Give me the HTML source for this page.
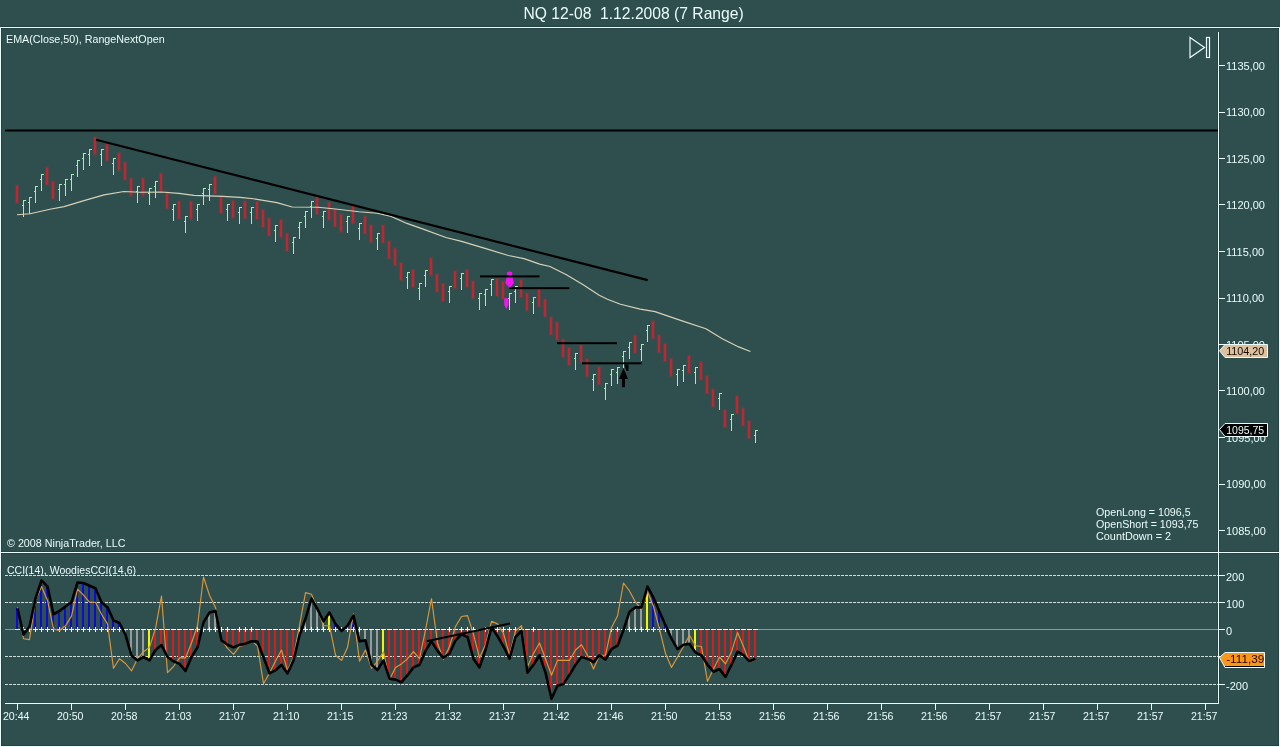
<!DOCTYPE html><html><head><meta charset="utf-8"><title>NQ 12-08 1.12.2008 (7 Range)</title>
<style>html,body{margin:0;padding:0;background:#2f4f4f;width:1280px;height:747px;overflow:hidden}svg{display:block;will-change:transform}text{font-family:"Liberation Sans", sans-serif}</style></head><body>
<svg width="1280" height="747" viewBox="0 0 1280 747">
<rect x="0" y="0" width="1280" height="747" fill="#2f4f4f"/>
<text x="633.6" y="18.8" font-size="15.66" fill="#eafcfb" text-anchor="middle">NQ 12-08&#160; 1.12.2008 (7 Range)</text>
<g fill="#000" fill-opacity="0.16" shape-rendering="crispEdges">
<rect x="0" y="26" width="1280" height="1"/>
<rect x="1" y="28" width="1278" height="1"/>
<rect x="1" y="28" width="1" height="718"/>
<rect x="1278" y="28" width="1" height="718"/>
<rect x="1" y="745" width="1278" height="1"/>
<rect x="1" y="551" width="1278" height="1"/>
<rect x="1" y="553" width="1278" height="1"/>
<rect x="1217" y="32" width="1" height="519"/>
<rect x="1219" y="32" width="1" height="519"/>
<rect x="1217" y="554" width="1" height="149"/>
<rect x="1219" y="554" width="1" height="149"/>
</g>
<g shape-rendering="crispEdges" fill="#eafcfb">
<rect x="0" y="27" width="1280" height="1"/>
<rect x="0" y="27" width="1" height="720"/>
<rect x="1279" y="27" width="1" height="720"/>
<rect x="0" y="746" width="1280" height="1"/>
<rect x="0" y="552" width="1280" height="1"/>
<rect x="1218" y="32" width="1" height="672"/>
<rect x="5" y="703" width="1214" height="1"/>
<rect x="17" y="704" width="1" height="6"/>
<rect x="71" y="704" width="1" height="6"/>
<rect x="125" y="704" width="1" height="6"/>
<rect x="179" y="704" width="1" height="6"/>
<rect x="233" y="704" width="1" height="6"/>
<rect x="287" y="704" width="1" height="6"/>
<rect x="341" y="704" width="1" height="6"/>
<rect x="395" y="704" width="1" height="6"/>
<rect x="449" y="704" width="1" height="6"/>
<rect x="503" y="704" width="1" height="6"/>
<rect x="557" y="704" width="1" height="6"/>
<rect x="611" y="704" width="1" height="6"/>
<rect x="665" y="704" width="1" height="6"/>
<rect x="719" y="704" width="1" height="6"/>
<rect x="773" y="704" width="1" height="6"/>
<rect x="827" y="704" width="1" height="6"/>
<rect x="881" y="704" width="1" height="6"/>
<rect x="935" y="704" width="1" height="6"/>
<rect x="989" y="704" width="1" height="6"/>
<rect x="1043" y="704" width="1" height="6"/>
<rect x="1097" y="704" width="1" height="6"/>
<rect x="1151" y="704" width="1" height="6"/>
<rect x="1205" y="704" width="1" height="6"/>
<rect x="1219" y="65" width="6" height="1"/>
<rect x="1219" y="112" width="6" height="1"/>
<rect x="1219" y="158" width="6" height="1"/>
<rect x="1219" y="204" width="6" height="1"/>
<rect x="1219" y="251" width="6" height="1"/>
<rect x="1219" y="298" width="6" height="1"/>
<rect x="1219" y="344" width="6" height="1"/>
<rect x="1219" y="390" width="6" height="1"/>
<rect x="1219" y="437" width="6" height="1"/>
<rect x="1219" y="484" width="6" height="1"/>
<rect x="1219" y="530" width="6" height="1"/>
<rect x="1219" y="575" width="6" height="1"/>
<rect x="1219" y="602" width="6" height="1"/>
<rect x="1219" y="629" width="6" height="1"/>
<rect x="1219" y="656" width="6" height="1"/>
<rect x="1219" y="684" width="6" height="1"/>
</g>
<g shape-rendering="crispEdges">
<line x1="5" y1="575.5" x2="1218" y2="575.5" stroke="#cfdcd9" stroke-width="1" stroke-dasharray="3 1"/>
<line x1="5" y1="602.5" x2="1218" y2="602.5" stroke="#cfdcd9" stroke-width="1" stroke-dasharray="3 1"/>
<line x1="5" y1="656.5" x2="1218" y2="656.5" stroke="#cfdcd9" stroke-width="1" stroke-dasharray="3 1"/>
<line x1="5" y1="684.5" x2="1218" y2="684.5" stroke="#cfdcd9" stroke-width="1" stroke-dasharray="3 1"/>
<rect x="5" y="629" width="10" height="1" fill="#8a9c9a"/>
<rect x="757" y="629" width="461" height="1" fill="#8a9c9a"/>
</g>
<g font-size="11" fill="#eafcfb">
<text x="1226" y="69.8">1135,00</text>
<text x="1226" y="116.3">1130,00</text>
<text x="1226" y="162.8">1125,00</text>
<text x="1226" y="209.3">1120,00</text>
<text x="1226" y="255.8">1115,00</text>
<text x="1226" y="302.3">1110,00</text>
<text x="1226" y="348.8">1105,00</text>
<text x="1226" y="395.3">1100,00</text>
<text x="1226" y="441.8">1095,00</text>
<text x="1226" y="488.3">1090,00</text>
<text x="1226" y="534.8">1085,00</text>
<text x="1226" y="581.2">200</text>
<text x="1226" y="608.2">100</text>
<text x="1226" y="635.2">0</text>
<text x="1226" y="690.2">-200</text>
<text x="16.2" y="720" text-anchor="middle" textLength="26.5" lengthAdjust="spacingAndGlyphs">20:44</text>
<text x="70.2" y="720" text-anchor="middle" textLength="26.5" lengthAdjust="spacingAndGlyphs">20:50</text>
<text x="124.2" y="720" text-anchor="middle" textLength="26.5" lengthAdjust="spacingAndGlyphs">20:58</text>
<text x="178.2" y="720" text-anchor="middle" textLength="26.5" lengthAdjust="spacingAndGlyphs">21:03</text>
<text x="232.2" y="720" text-anchor="middle" textLength="26.5" lengthAdjust="spacingAndGlyphs">21:07</text>
<text x="286.2" y="720" text-anchor="middle" textLength="26.5" lengthAdjust="spacingAndGlyphs">21:10</text>
<text x="340.2" y="720" text-anchor="middle" textLength="26.5" lengthAdjust="spacingAndGlyphs">21:15</text>
<text x="394.2" y="720" text-anchor="middle" textLength="26.5" lengthAdjust="spacingAndGlyphs">21:23</text>
<text x="448.2" y="720" text-anchor="middle" textLength="26.5" lengthAdjust="spacingAndGlyphs">21:32</text>
<text x="502.2" y="720" text-anchor="middle" textLength="26.5" lengthAdjust="spacingAndGlyphs">21:37</text>
<text x="556.2" y="720" text-anchor="middle" textLength="26.5" lengthAdjust="spacingAndGlyphs">21:42</text>
<text x="610.2" y="720" text-anchor="middle" textLength="26.5" lengthAdjust="spacingAndGlyphs">21:46</text>
<text x="664.2" y="720" text-anchor="middle" textLength="26.5" lengthAdjust="spacingAndGlyphs">21:50</text>
<text x="718.2" y="720" text-anchor="middle" textLength="26.5" lengthAdjust="spacingAndGlyphs">21:53</text>
<text x="772.2" y="720" text-anchor="middle" textLength="26.5" lengthAdjust="spacingAndGlyphs">21:56</text>
<text x="826.2" y="720" text-anchor="middle" textLength="26.5" lengthAdjust="spacingAndGlyphs">21:56</text>
<text x="880.2" y="720" text-anchor="middle" textLength="26.5" lengthAdjust="spacingAndGlyphs">21:56</text>
<text x="934.2" y="720" text-anchor="middle" textLength="26.5" lengthAdjust="spacingAndGlyphs">21:56</text>
<text x="988.2" y="720" text-anchor="middle" textLength="26.5" lengthAdjust="spacingAndGlyphs">21:57</text>
<text x="1042.2" y="720" text-anchor="middle" textLength="26.5" lengthAdjust="spacingAndGlyphs">21:57</text>
<text x="1096.2" y="720" text-anchor="middle" textLength="26.5" lengthAdjust="spacingAndGlyphs">21:57</text>
<text x="1150.2" y="720" text-anchor="middle" textLength="26.5" lengthAdjust="spacingAndGlyphs">21:57</text>
<text x="1204.2" y="720" text-anchor="middle" textLength="26.5" lengthAdjust="spacingAndGlyphs">21:57</text>
<text x="6" y="43" textLength="158.6" lengthAdjust="spacingAndGlyphs">EMA(Close,50), RangeNextOpen</text>
<text x="7" y="547" textLength="118.5" lengthAdjust="spacingAndGlyphs">&#169; 2008 NinjaTrader, LLC</text>
<text x="7" y="574" textLength="129" lengthAdjust="spacingAndGlyphs">CCI(14), WoodiesCCI(14,6)</text>
<text x="1096" y="516" textLength="94.6" lengthAdjust="spacingAndGlyphs">OpenLong = 1096,5</text>
<text x="1096" y="528" textLength="102.5" lengthAdjust="spacingAndGlyphs">OpenShort = 1093,75</text>
<text x="1096" y="540" textLength="75.1" lengthAdjust="spacingAndGlyphs">CountDown = 2</text>
</g>
<g fill="none" stroke="#eafcfb" stroke-width="1.2">
<path d="M1190 37.5 L1204.5 47.5 L1190 57.5 Z"/>
<rect x="1206.5" y="37.5" width="3" height="20"/>
</g>
<rect x="5" y="129.5" width="1213" height="2" fill="#000"/>
<g fill="#c42430">
<rect x="16" y="185.7" width="2" height="17"/>
<rect x="15" y="184.5" width="4" height="19.4" fill-opacity="0.28"/>
<rect x="46" y="167.7" width="2" height="17"/>
<rect x="45" y="166.5" width="4" height="19.4" fill-opacity="0.28"/>
<rect x="52" y="181.7" width="2" height="17"/>
<rect x="51" y="180.5" width="4" height="19.4" fill-opacity="0.28"/>
<rect x="94" y="137.2" width="2" height="17"/>
<rect x="93" y="136" width="4" height="19.4" fill-opacity="0.28"/>
<rect x="106" y="143.5" width="2" height="17"/>
<rect x="105" y="142.3" width="4" height="19.4" fill-opacity="0.28"/>
<rect x="118" y="153.2" width="2" height="17"/>
<rect x="117" y="152" width="4" height="19.4" fill-opacity="0.28"/>
<rect x="124" y="162.5" width="2" height="17"/>
<rect x="123" y="161.3" width="4" height="19.4" fill-opacity="0.28"/>
<rect x="130" y="178.5" width="2" height="17"/>
<rect x="129" y="177.3" width="4" height="19.4" fill-opacity="0.28"/>
<rect x="142" y="178.5" width="2" height="17"/>
<rect x="141" y="177.3" width="4" height="19.4" fill-opacity="0.28"/>
<rect x="160" y="173.9" width="2" height="17"/>
<rect x="159" y="172.7" width="4" height="19.4" fill-opacity="0.28"/>
<rect x="166" y="191.5" width="2" height="17"/>
<rect x="165" y="190.3" width="4" height="19.4" fill-opacity="0.28"/>
<rect x="178" y="201.5" width="2" height="17"/>
<rect x="177" y="200.3" width="4" height="19.4" fill-opacity="0.28"/>
<rect x="190" y="201.8" width="2" height="17"/>
<rect x="189" y="200.6" width="4" height="19.4" fill-opacity="0.28"/>
<rect x="214" y="176.5" width="2" height="17"/>
<rect x="213" y="175.3" width="4" height="19.4" fill-opacity="0.28"/>
<rect x="220" y="196" width="2" height="17"/>
<rect x="219" y="194.8" width="4" height="19.4" fill-opacity="0.28"/>
<rect x="232" y="200.8" width="2" height="17"/>
<rect x="231" y="199.6" width="4" height="19.4" fill-opacity="0.28"/>
<rect x="244" y="201.3" width="2" height="17"/>
<rect x="243" y="200.1" width="4" height="19.4" fill-opacity="0.28"/>
<rect x="256" y="202" width="2" height="17"/>
<rect x="255" y="200.8" width="4" height="19.4" fill-opacity="0.28"/>
<rect x="262" y="210.1" width="2" height="17"/>
<rect x="261" y="208.9" width="4" height="19.4" fill-opacity="0.28"/>
<rect x="268" y="218.5" width="2" height="17"/>
<rect x="267" y="217.3" width="4" height="19.4" fill-opacity="0.28"/>
<rect x="280" y="220.1" width="2" height="17"/>
<rect x="279" y="218.9" width="4" height="19.4" fill-opacity="0.28"/>
<rect x="286" y="233.7" width="2" height="17"/>
<rect x="285" y="232.5" width="4" height="19.4" fill-opacity="0.28"/>
<rect x="316" y="196.9" width="2" height="17"/>
<rect x="315" y="195.7" width="4" height="19.4" fill-opacity="0.28"/>
<rect x="328" y="202.5" width="2" height="17"/>
<rect x="327" y="201.3" width="4" height="19.4" fill-opacity="0.28"/>
<rect x="334" y="209.5" width="2" height="17"/>
<rect x="333" y="208.3" width="4" height="19.4" fill-opacity="0.28"/>
<rect x="340" y="214.5" width="2" height="17"/>
<rect x="339" y="213.3" width="4" height="19.4" fill-opacity="0.28"/>
<rect x="352" y="206.1" width="2" height="17"/>
<rect x="351" y="204.9" width="4" height="19.4" fill-opacity="0.28"/>
<rect x="364" y="216.5" width="2" height="17"/>
<rect x="363" y="215.3" width="4" height="19.4" fill-opacity="0.28"/>
<rect x="370" y="225.2" width="2" height="17"/>
<rect x="369" y="224" width="4" height="19.4" fill-opacity="0.28"/>
<rect x="382" y="225.5" width="2" height="17"/>
<rect x="381" y="224.3" width="4" height="19.4" fill-opacity="0.28"/>
<rect x="388" y="241.5" width="2" height="17"/>
<rect x="387" y="240.3" width="4" height="19.4" fill-opacity="0.28"/>
<rect x="394" y="248.5" width="2" height="17"/>
<rect x="393" y="247.3" width="4" height="19.4" fill-opacity="0.28"/>
<rect x="400" y="263" width="2" height="17"/>
<rect x="399" y="261.8" width="4" height="19.4" fill-opacity="0.28"/>
<rect x="412" y="270.1" width="2" height="17"/>
<rect x="411" y="268.9" width="4" height="19.4" fill-opacity="0.28"/>
<rect x="430" y="258.3" width="2" height="17"/>
<rect x="429" y="257.1" width="4" height="19.4" fill-opacity="0.28"/>
<rect x="436" y="274.5" width="2" height="17"/>
<rect x="435" y="273.3" width="4" height="19.4" fill-opacity="0.28"/>
<rect x="442" y="284" width="2" height="17"/>
<rect x="441" y="282.8" width="4" height="19.4" fill-opacity="0.28"/>
<rect x="454" y="271.2" width="2" height="17"/>
<rect x="453" y="270" width="4" height="19.4" fill-opacity="0.28"/>
<rect x="466" y="270.1" width="2" height="17"/>
<rect x="465" y="268.9" width="4" height="19.4" fill-opacity="0.28"/>
<rect x="472" y="281.1" width="2" height="17"/>
<rect x="471" y="279.9" width="4" height="19.4" fill-opacity="0.28"/>
<rect x="496" y="278.9" width="2" height="17"/>
<rect x="495" y="277.7" width="4" height="19.4" fill-opacity="0.28"/>
<rect x="502" y="281.8" width="2" height="17"/>
<rect x="501" y="280.6" width="4" height="19.4" fill-opacity="0.28"/>
<rect x="520" y="280" width="2" height="17"/>
<rect x="519" y="278.8" width="4" height="19.4" fill-opacity="0.28"/>
<rect x="526" y="293.3" width="2" height="17"/>
<rect x="525" y="292.1" width="4" height="19.4" fill-opacity="0.28"/>
<rect x="538" y="289.5" width="2" height="17"/>
<rect x="537" y="288.3" width="4" height="19.4" fill-opacity="0.28"/>
<rect x="544" y="299.5" width="2" height="17"/>
<rect x="543" y="298.3" width="4" height="19.4" fill-opacity="0.28"/>
<rect x="550" y="317.5" width="2" height="17"/>
<rect x="549" y="316.3" width="4" height="19.4" fill-opacity="0.28"/>
<rect x="556" y="322.5" width="2" height="17"/>
<rect x="555" y="321.3" width="4" height="19.4" fill-opacity="0.28"/>
<rect x="562" y="339.7" width="2" height="17"/>
<rect x="561" y="338.5" width="4" height="19.4" fill-opacity="0.28"/>
<rect x="568" y="347.9" width="2" height="17"/>
<rect x="567" y="346.7" width="4" height="19.4" fill-opacity="0.28"/>
<rect x="580" y="344.9" width="2" height="17"/>
<rect x="579" y="343.7" width="4" height="19.4" fill-opacity="0.28"/>
<rect x="586" y="359.3" width="2" height="17"/>
<rect x="585" y="358.1" width="4" height="19.4" fill-opacity="0.28"/>
<rect x="598" y="367.3" width="2" height="17"/>
<rect x="597" y="366.1" width="4" height="19.4" fill-opacity="0.28"/>
<rect x="634" y="335.7" width="2" height="17"/>
<rect x="633" y="334.5" width="4" height="19.4" fill-opacity="0.28"/>
<rect x="652" y="321.3" width="2" height="17"/>
<rect x="651" y="320.1" width="4" height="19.4" fill-opacity="0.28"/>
<rect x="658" y="335.3" width="2" height="17"/>
<rect x="657" y="334.1" width="4" height="19.4" fill-opacity="0.28"/>
<rect x="664" y="344" width="2" height="17"/>
<rect x="663" y="342.8" width="4" height="19.4" fill-opacity="0.28"/>
<rect x="670" y="358.7" width="2" height="17"/>
<rect x="669" y="357.5" width="4" height="19.4" fill-opacity="0.28"/>
<rect x="688" y="355.8" width="2" height="17"/>
<rect x="687" y="354.6" width="4" height="19.4" fill-opacity="0.28"/>
<rect x="700" y="362.4" width="2" height="17"/>
<rect x="699" y="361.2" width="4" height="19.4" fill-opacity="0.28"/>
<rect x="706" y="376.3" width="2" height="17"/>
<rect x="705" y="375.1" width="4" height="19.4" fill-opacity="0.28"/>
<rect x="712" y="389.5" width="2" height="17"/>
<rect x="711" y="388.3" width="4" height="19.4" fill-opacity="0.28"/>
<rect x="724" y="410.2" width="2" height="17"/>
<rect x="723" y="409" width="4" height="19.4" fill-opacity="0.28"/>
<rect x="736" y="396.3" width="2" height="17"/>
<rect x="735" y="395.1" width="4" height="19.4" fill-opacity="0.28"/>
<rect x="742" y="408.5" width="2" height="17"/>
<rect x="741" y="407.3" width="4" height="19.4" fill-opacity="0.28"/>
<rect x="748" y="421" width="2" height="17"/>
<rect x="747" y="419.8" width="4" height="19.4" fill-opacity="0.28"/>
</g>
<polyline fill="none" stroke="#d6d2b8" stroke-width="1.15" stroke-linejoin="round" points="17,214.7 30,213.7 50,209.3 64,206.6 84,200.6 104,194.9 124,191.5 140,192.2 161,192 179,193.4 194,195.4 223,196.4 240,197.4 253.4,198.8 276.9,202.6 292.1,207 317.9,207.3 335.5,209 358.9,211.7 377.2,213.3 391.3,216.4 406.9,223.4 422.5,228.9 445.9,237.5 461.6,241.4 485,248.4 508.4,255.5 524,258.6 539.7,264.1 550,266.5 566.4,274.7 582.8,284.5 599.2,295.2 607.4,299.3 620.5,304.2 640.2,309.1 655,311.6 681.3,320.6 705.9,328.8 722.3,338.7 738.7,346.9 750.4,351.5"/>
<g shape-rendering="crispEdges" fill="#a4f0b4">
<rect x="23" y="200.2" width="1" height="17"/>
<rect x="24" y="200.2" width="2" height="1"/>
<rect x="22" y="205.2" width="1" height="1"/>
<rect x="29" y="197.3" width="1" height="17"/>
<rect x="30" y="197.3" width="2" height="1"/>
<rect x="28" y="202.3" width="1" height="1"/>
<rect x="35" y="186.2" width="1" height="17"/>
<rect x="36" y="186.2" width="2" height="1"/>
<rect x="34" y="191.2" width="1" height="1"/>
<rect x="41" y="174.1" width="1" height="17"/>
<rect x="42" y="174.1" width="2" height="1"/>
<rect x="40" y="179.1" width="1" height="1"/>
<rect x="59" y="184.1" width="1" height="17"/>
<rect x="60" y="184.1" width="2" height="1"/>
<rect x="58" y="189.1" width="1" height="1"/>
<rect x="65" y="179.2" width="1" height="17"/>
<rect x="66" y="179.2" width="2" height="1"/>
<rect x="64" y="184.2" width="1" height="1"/>
<rect x="71" y="174.2" width="1" height="17"/>
<rect x="72" y="174.2" width="2" height="1"/>
<rect x="70" y="179.2" width="1" height="1"/>
<rect x="77" y="160.2" width="1" height="17"/>
<rect x="78" y="160.2" width="2" height="1"/>
<rect x="76" y="165.2" width="1" height="1"/>
<rect x="83" y="153.1" width="1" height="17"/>
<rect x="84" y="153.1" width="2" height="1"/>
<rect x="82" y="158.1" width="1" height="1"/>
<rect x="89" y="149.1" width="1" height="17"/>
<rect x="90" y="149.1" width="2" height="1"/>
<rect x="88" y="154.1" width="1" height="1"/>
<rect x="101" y="149.1" width="1" height="17"/>
<rect x="102" y="149.1" width="2" height="1"/>
<rect x="100" y="154.1" width="1" height="1"/>
<rect x="113" y="158.4" width="1" height="17"/>
<rect x="114" y="158.4" width="2" height="1"/>
<rect x="112" y="163.4" width="1" height="1"/>
<rect x="137" y="186.1" width="1" height="17"/>
<rect x="138" y="186.1" width="2" height="1"/>
<rect x="136" y="191.1" width="1" height="1"/>
<rect x="149" y="188" width="1" height="17"/>
<rect x="150" y="188" width="2" height="1"/>
<rect x="148" y="193" width="1" height="1"/>
<rect x="155" y="181.2" width="1" height="17"/>
<rect x="156" y="181.2" width="2" height="1"/>
<rect x="154" y="186.2" width="1" height="1"/>
<rect x="173" y="204.2" width="1" height="17"/>
<rect x="174" y="204.2" width="2" height="1"/>
<rect x="172" y="209.2" width="1" height="1"/>
<rect x="185" y="216.3" width="1" height="17"/>
<rect x="186" y="216.3" width="2" height="1"/>
<rect x="184" y="221.3" width="1" height="1"/>
<rect x="197" y="204.2" width="1" height="17"/>
<rect x="198" y="204.2" width="2" height="1"/>
<rect x="196" y="209.2" width="1" height="1"/>
<rect x="203" y="188" width="1" height="17"/>
<rect x="204" y="188" width="2" height="1"/>
<rect x="202" y="193" width="1" height="1"/>
<rect x="209" y="184.2" width="1" height="17"/>
<rect x="210" y="184.2" width="2" height="1"/>
<rect x="208" y="189.2" width="1" height="1"/>
<rect x="227" y="204.2" width="1" height="17"/>
<rect x="228" y="204.2" width="2" height="1"/>
<rect x="226" y="209.2" width="1" height="1"/>
<rect x="239" y="207.3" width="1" height="17"/>
<rect x="240" y="207.3" width="2" height="1"/>
<rect x="238" y="212.3" width="1" height="1"/>
<rect x="251" y="207.2" width="1" height="17"/>
<rect x="252" y="207.2" width="2" height="1"/>
<rect x="250" y="212.2" width="1" height="1"/>
<rect x="275" y="225.4" width="1" height="17"/>
<rect x="276" y="225.4" width="2" height="1"/>
<rect x="274" y="230.4" width="1" height="1"/>
<rect x="293" y="237.4" width="1" height="17"/>
<rect x="294" y="237.4" width="2" height="1"/>
<rect x="292" y="242.4" width="1" height="1"/>
<rect x="299" y="221.5" width="1" height="17"/>
<rect x="300" y="221.5" width="2" height="1"/>
<rect x="298" y="226.5" width="1" height="1"/>
<rect x="305" y="211.2" width="1" height="17"/>
<rect x="306" y="211.2" width="2" height="1"/>
<rect x="304" y="216.2" width="1" height="1"/>
<rect x="311" y="200.6" width="1" height="17"/>
<rect x="312" y="200.6" width="2" height="1"/>
<rect x="310" y="205.6" width="1" height="1"/>
<rect x="323" y="211.2" width="1" height="17"/>
<rect x="324" y="211.2" width="2" height="1"/>
<rect x="322" y="216.2" width="1" height="1"/>
<rect x="347" y="216.1" width="1" height="17"/>
<rect x="348" y="216.1" width="2" height="1"/>
<rect x="346" y="221.1" width="1" height="1"/>
<rect x="359" y="223" width="1" height="17"/>
<rect x="360" y="223" width="2" height="1"/>
<rect x="358" y="228" width="1" height="1"/>
<rect x="377" y="232.6" width="1" height="17"/>
<rect x="378" y="232.6" width="2" height="1"/>
<rect x="376" y="237.6" width="1" height="1"/>
<rect x="407" y="272.3" width="1" height="17"/>
<rect x="408" y="272.3" width="2" height="1"/>
<rect x="406" y="277.3" width="1" height="1"/>
<rect x="419" y="283.4" width="1" height="17"/>
<rect x="420" y="283.4" width="2" height="1"/>
<rect x="418" y="288.4" width="1" height="1"/>
<rect x="425" y="270.4" width="1" height="17"/>
<rect x="426" y="270.4" width="2" height="1"/>
<rect x="424" y="275.4" width="1" height="1"/>
<rect x="449" y="286.3" width="1" height="17"/>
<rect x="450" y="286.3" width="2" height="1"/>
<rect x="448" y="291.3" width="1" height="1"/>
<rect x="461" y="272.5" width="1" height="17"/>
<rect x="462" y="272.5" width="2" height="1"/>
<rect x="460" y="277.5" width="1" height="1"/>
<rect x="479" y="293.3" width="1" height="17"/>
<rect x="480" y="293.3" width="2" height="1"/>
<rect x="478" y="298.3" width="1" height="1"/>
<rect x="485" y="288.6" width="1" height="17"/>
<rect x="486" y="288.6" width="2" height="1"/>
<rect x="484" y="293.6" width="1" height="1"/>
<rect x="491" y="279.3" width="1" height="17"/>
<rect x="492" y="279.3" width="2" height="1"/>
<rect x="490" y="284.3" width="1" height="1"/>
<rect x="509" y="293" width="1" height="17"/>
<rect x="510" y="293" width="2" height="1"/>
<rect x="508" y="298" width="1" height="1"/>
<rect x="515" y="286.2" width="1" height="17"/>
<rect x="516" y="286.2" width="2" height="1"/>
<rect x="514" y="291.2" width="1" height="1"/>
<rect x="533" y="297.4" width="1" height="17"/>
<rect x="534" y="297.4" width="2" height="1"/>
<rect x="532" y="302.4" width="1" height="1"/>
<rect x="575" y="353.3" width="1" height="17"/>
<rect x="576" y="353.3" width="2" height="1"/>
<rect x="574" y="358.3" width="1" height="1"/>
<rect x="593" y="374.4" width="1" height="17"/>
<rect x="594" y="374.4" width="2" height="1"/>
<rect x="592" y="379.4" width="1" height="1"/>
<rect x="605" y="383.2" width="1" height="17"/>
<rect x="606" y="383.2" width="2" height="1"/>
<rect x="604" y="388.2" width="1" height="1"/>
<rect x="611" y="368.9" width="1" height="17"/>
<rect x="612" y="368.9" width="2" height="1"/>
<rect x="610" y="373.9" width="1" height="1"/>
<rect x="617" y="367" width="1" height="17"/>
<rect x="618" y="367" width="2" height="1"/>
<rect x="616" y="372" width="1" height="1"/>
<rect x="623" y="351.3" width="1" height="17"/>
<rect x="624" y="351.3" width="2" height="1"/>
<rect x="622" y="356.3" width="1" height="1"/>
<rect x="629" y="342.4" width="1" height="17"/>
<rect x="630" y="342.4" width="2" height="1"/>
<rect x="628" y="347.4" width="1" height="1"/>
<rect x="641" y="343.9" width="1" height="17"/>
<rect x="642" y="343.9" width="2" height="1"/>
<rect x="640" y="348.9" width="1" height="1"/>
<rect x="647" y="325" width="1" height="17"/>
<rect x="648" y="325" width="2" height="1"/>
<rect x="646" y="330" width="1" height="1"/>
<rect x="677" y="369.2" width="1" height="17"/>
<rect x="678" y="369.2" width="2" height="1"/>
<rect x="676" y="374.2" width="1" height="1"/>
<rect x="683" y="365.2" width="1" height="17"/>
<rect x="684" y="365.2" width="2" height="1"/>
<rect x="682" y="370.2" width="1" height="1"/>
<rect x="695" y="367" width="1" height="17"/>
<rect x="696" y="367" width="2" height="1"/>
<rect x="694" y="372" width="1" height="1"/>
<rect x="719" y="393" width="1" height="17"/>
<rect x="720" y="393" width="2" height="1"/>
<rect x="718" y="398" width="1" height="1"/>
<rect x="731" y="413.9" width="1" height="17"/>
<rect x="732" y="413.9" width="2" height="1"/>
<rect x="730" y="418.9" width="1" height="1"/>
<rect x="755" y="430" width="1" height="13"/>
<rect x="756" y="430" width="2" height="1"/>
<rect x="754" y="435" width="1" height="1"/>
</g>
<g fill="#f412f4">
<ellipse cx="509.6" cy="273.9" rx="2.7" ry="2.4"/>
<path d="M506.6 277.3 L512.6 277.3 L513.9 283 L509.6 288.2 L505.3 283 Z"/>
<path d="M504.2 298.5 L508.4 298 L508.4 305 L506.3 309 L504.2 305 Z"/>
</g>
<line x1="96" y1="139.8" x2="647.7" y2="280.1" stroke="#000" stroke-width="2.2"/>
<g fill="#000">
<rect x="480" y="275.4" width="59.5" height="2"/>
<rect x="509.4" y="287.15" width="60" height="2"/>
<rect x="557" y="342.2" width="60" height="2"/>
<rect x="582" y="362.3" width="59.8" height="2"/>
</g>
<g fill="#000">
<path d="M623.5 368 L628 379 L619 379 Z"/>
<rect x="622" y="378.5" width="3" height="8.7"/>
<path d="M624.5 364.5 L628.5 364.5 L628.5 371 L626.5 371 Z"/>
</g>
<path d="M1219.5 350.7 L1225 344.5 L1267.5 344.5 L1267.5 357.5 L1225 357.5 Z" fill="#dcc0a0" stroke="#eafcfb" stroke-width="1"/>
<text x="1226.2" y="355" font-size="11" fill="#120800" textLength="38" lengthAdjust="spacingAndGlyphs">1104,20</text>
<path d="M1219.5 429.5 L1225 423.5 L1267.5 423.5 L1267.5 436.5 L1225 436.5 Z" fill="#000000" stroke="#eafcfb" stroke-width="1"/>
<text x="1226.2" y="434" font-size="11" fill="#eafcfb" textLength="38" lengthAdjust="spacingAndGlyphs">1095,75</text>
<path d="M1219.5 657.5 L1225 652.5 L1264.5 652.5 L1264.5 667.5 L1225 667.5 Z" fill="#fb9618" stroke="#eafcfb" stroke-width="1"/>
<rect x="1225" y="666" width="39" height="1" fill="#000" shape-rendering="crispEdges"/>
<text x="1226.2" y="663" font-size="11" fill="#200400" textLength="38" lengthAdjust="spacingAndGlyphs">-111,39</text>
<g shape-rendering="crispEdges">
<rect x="16" y="608.4" width="2" height="21.1" fill="#0c0cd8"/>
<rect x="34" y="598.5" width="2" height="31" fill="#0c0cd8"/>
<rect x="40" y="580.4" width="2" height="49.1" fill="#0c0cd8"/>
<rect x="46" y="586.5" width="2" height="43" fill="#0c0cd8"/>
<rect x="52" y="614.3" width="2" height="15.2" fill="#0c0cd8"/>
<rect x="58" y="610.9" width="2" height="18.6" fill="#0c0cd8"/>
<rect x="64" y="606.5" width="2" height="23" fill="#0c0cd8"/>
<rect x="70" y="602.2" width="2" height="27.3" fill="#0c0cd8"/>
<rect x="76" y="582.5" width="2" height="47" fill="#0c0cd8"/>
<rect x="82" y="583" width="2" height="46.5" fill="#0c0cd8"/>
<rect x="88" y="585.7" width="2" height="43.8" fill="#0c0cd8"/>
<rect x="94" y="588.3" width="2" height="41.2" fill="#0c0cd8"/>
<rect x="100" y="602.2" width="2" height="27.3" fill="#0c0cd8"/>
<rect x="106" y="607.4" width="2" height="22.1" fill="#0c0cd8"/>
<rect x="112" y="620.4" width="2" height="9.1" fill="#0c0cd8"/>
<rect x="118" y="623" width="2" height="6.5" fill="#0c0cd8"/>
<rect x="124" y="629.5" width="2" height="5.3" fill="#9a9a9a"/>
<rect x="130" y="629.5" width="2" height="26.1" fill="#9a9a9a"/>
<rect x="136" y="629.5" width="2" height="30.9" fill="#9a9a9a"/>
<rect x="142" y="629.5" width="2" height="27.5" fill="#9a9a9a"/>
<rect x="148" y="629.5" width="2" height="30.9" fill="#f4f400"/>
<rect x="154" y="629.5" width="2" height="20.5" fill="#e01818"/>
<rect x="160" y="629.5" width="2" height="15.6" fill="#e01818"/>
<rect x="166" y="629.5" width="2" height="27.5" fill="#e01818"/>
<rect x="172" y="629.5" width="2" height="31.8" fill="#e01818"/>
<rect x="178" y="629.5" width="2" height="34.4" fill="#e01818"/>
<rect x="184" y="629.5" width="2" height="41.4" fill="#e01818"/>
<rect x="190" y="629.5" width="2" height="27.5" fill="#e01818"/>
<rect x="196" y="629.5" width="2" height="17.9" fill="#e01818"/>
<rect x="202" y="622.2" width="2" height="7.3" fill="#9a9a9a"/>
<rect x="208" y="612.6" width="2" height="16.9" fill="#9a9a9a"/>
<rect x="214" y="610.9" width="2" height="18.6" fill="#9a9a9a"/>
<rect x="220" y="629.5" width="2" height="10.9" fill="#e01818"/>
<rect x="226" y="629.5" width="2" height="15.3" fill="#e01818"/>
<rect x="232" y="629.5" width="2" height="17.9" fill="#e01818"/>
<rect x="238" y="629.5" width="2" height="15.4" fill="#e01818"/>
<rect x="244" y="629.5" width="2" height="14.4" fill="#e01818"/>
<rect x="250" y="629.5" width="2" height="11.7" fill="#e01818"/>
<rect x="256" y="629.5" width="2" height="12.1" fill="#e01818"/>
<rect x="262" y="629.5" width="2" height="27.8" fill="#e01818"/>
<rect x="268" y="629.5" width="2" height="43.9" fill="#e01818"/>
<rect x="274" y="629.5" width="2" height="40.8" fill="#e01818"/>
<rect x="280" y="629.5" width="2" height="35.4" fill="#e01818"/>
<rect x="286" y="629.5" width="2" height="43.9" fill="#e01818"/>
<rect x="292" y="629.5" width="2" height="31" fill="#e01818"/>
<rect x="298" y="629.5" width="2" height="6" fill="#e01818"/>
<rect x="304" y="618.7" width="2" height="10.8" fill="#9a9a9a"/>
<rect x="310" y="598.7" width="2" height="30.8" fill="#9a9a9a"/>
<rect x="316" y="609.1" width="2" height="20.4" fill="#9a9a9a"/>
<rect x="322" y="621.3" width="2" height="8.2" fill="#9a9a9a"/>
<rect x="328" y="612.6" width="2" height="16.9" fill="#f4f400"/>
<rect x="334" y="623.9" width="2" height="5.6" fill="#0c0cd8"/>
<rect x="340" y="629.5" width="2" height="1.4" fill="#0c0cd8"/>
<rect x="346" y="625.7" width="2" height="3.8" fill="#0c0cd8"/>
<rect x="352" y="615.6" width="2" height="13.9" fill="#0c0cd8"/>
<rect x="358" y="629.5" width="2" height="11.8" fill="#9a9a9a"/>
<rect x="364" y="629.5" width="2" height="10.9" fill="#9a9a9a"/>
<rect x="370" y="629.5" width="2" height="35.3" fill="#9a9a9a"/>
<rect x="376" y="629.5" width="2" height="40.5" fill="#9a9a9a"/>
<rect x="382" y="629.5" width="2" height="30.9" fill="#f4f400"/>
<rect x="388" y="629.5" width="2" height="49.2" fill="#e01818"/>
<rect x="394" y="629.5" width="2" height="50.1" fill="#e01818"/>
<rect x="400" y="629.5" width="2" height="52.7" fill="#e01818"/>
<rect x="406" y="629.5" width="2" height="45.7" fill="#e01818"/>
<rect x="412" y="629.5" width="2" height="37.9" fill="#e01818"/>
<rect x="418" y="629.5" width="2" height="35.3" fill="#e01818"/>
<rect x="424" y="629.5" width="2" height="21.4" fill="#e01818"/>
<rect x="430" y="629.5" width="2" height="11.8" fill="#e01818"/>
<rect x="436" y="629.5" width="2" height="21.4" fill="#e01818"/>
<rect x="442" y="629.5" width="2" height="28.3" fill="#e01818"/>
<rect x="448" y="629.5" width="2" height="24" fill="#e01818"/>
<rect x="454" y="629.5" width="2" height="11" fill="#e01818"/>
<rect x="460" y="629.5" width="2" height="4.8" fill="#e01818"/>
<rect x="466" y="629.5" width="2" height="7.5" fill="#e01818"/>
<rect x="472" y="629.5" width="2" height="29.2" fill="#e01818"/>
<rect x="478" y="629.5" width="2" height="37.9" fill="#e01818"/>
<rect x="484" y="629.5" width="2" height="20.5" fill="#e01818"/>
<rect x="490" y="627.4" width="2" height="2.1" fill="#e01818"/>
<rect x="496" y="629.5" width="2" height="6.6" fill="#e01818"/>
<rect x="502" y="629.5" width="2" height="17" fill="#e01818"/>
<rect x="508" y="629.5" width="2" height="29.2" fill="#e01818"/>
<rect x="514" y="629.5" width="2" height="7.5" fill="#e01818"/>
<rect x="520" y="629.5" width="2" height="1.4" fill="#e01818"/>
<rect x="526" y="629.5" width="2" height="43.1" fill="#e01818"/>
<rect x="532" y="629.5" width="2" height="35.3" fill="#e01818"/>
<rect x="538" y="629.5" width="2" height="25.7" fill="#e01818"/>
<rect x="544" y="629.5" width="2" height="43.1" fill="#e01818"/>
<rect x="550" y="629.5" width="2" height="69.2" fill="#e01818"/>
<rect x="556" y="629.5" width="2" height="56.2" fill="#e01818"/>
<rect x="562" y="629.5" width="2" height="54.4" fill="#e01818"/>
<rect x="568" y="629.5" width="2" height="45.3" fill="#e01818"/>
<rect x="574" y="629.5" width="2" height="35.3" fill="#e01818"/>
<rect x="580" y="629.5" width="2" height="27.5" fill="#e01818"/>
<rect x="586" y="629.5" width="2" height="29.2" fill="#e01818"/>
<rect x="592" y="629.5" width="2" height="32.7" fill="#e01818"/>
<rect x="598" y="629.5" width="2" height="25.7" fill="#e01818"/>
<rect x="604" y="629.5" width="2" height="30.1" fill="#e01818"/>
<rect x="610" y="629.5" width="2" height="19.6" fill="#e01818"/>
<rect x="616" y="629.5" width="2" height="16.2" fill="#e01818"/>
<rect x="628" y="611.7" width="2" height="17.8" fill="#9a9a9a"/>
<rect x="634" y="607.4" width="2" height="22.1" fill="#9a9a9a"/>
<rect x="640" y="607.4" width="2" height="22.1" fill="#9a9a9a"/>
<rect x="646" y="586.5" width="2" height="43" fill="#f4f400"/>
<rect x="652" y="597.8" width="2" height="31.7" fill="#0c0cd8"/>
<rect x="658" y="611.7" width="2" height="17.8" fill="#0c0cd8"/>
<rect x="664" y="625.2" width="2" height="4.3" fill="#0c0cd8"/>
<rect x="670" y="629.5" width="2" height="9.2" fill="#9a9a9a"/>
<rect x="676" y="629.5" width="2" height="19.6" fill="#9a9a9a"/>
<rect x="682" y="629.5" width="2" height="15.3" fill="#9a9a9a"/>
<rect x="688" y="629.5" width="2" height="14.4" fill="#9a9a9a"/>
<rect x="694" y="629.5" width="2" height="23.1" fill="#f4f400"/>
<rect x="700" y="629.5" width="2" height="25.7" fill="#e01818"/>
<rect x="706" y="629.5" width="2" height="35.3" fill="#e01818"/>
<rect x="712" y="629.5" width="2" height="42.2" fill="#e01818"/>
<rect x="718" y="629.5" width="2" height="39.6" fill="#e01818"/>
<rect x="724" y="629.5" width="2" height="47.5" fill="#e01818"/>
<rect x="730" y="629.5" width="2" height="35.3" fill="#e01818"/>
<rect x="736" y="629.5" width="2" height="22.2" fill="#e01818"/>
<rect x="742" y="629.5" width="2" height="25.7" fill="#e01818"/>
<rect x="748" y="629.5" width="2" height="31.8" fill="#e01818"/>
<rect x="754" y="629.5" width="2" height="29.2" fill="#e01818"/>
</g>
<g fill="#eafcfb" shape-rendering="crispEdges">
<rect x="15" y="629" width="5" height="1"/>
<rect x="21" y="629" width="5" height="1"/>
<rect x="27" y="629" width="5" height="1"/>
<rect x="33" y="629" width="5" height="1"/>
<rect x="39" y="629" width="5" height="1"/>
<rect x="45" y="629" width="5" height="1"/>
<rect x="51" y="629" width="5" height="1"/>
<rect x="57" y="629" width="5" height="1"/>
<rect x="63" y="629" width="5" height="1"/>
<rect x="69" y="629" width="5" height="1"/>
<rect x="75" y="629" width="5" height="1"/>
<rect x="81" y="629" width="5" height="1"/>
<rect x="87" y="629" width="5" height="1"/>
<rect x="93" y="629" width="5" height="1"/>
<rect x="99" y="629" width="5" height="1"/>
<rect x="105" y="629" width="5" height="1"/>
<rect x="111" y="629" width="5" height="1"/>
<rect x="117" y="629" width="5" height="1"/>
<rect x="123" y="629" width="5" height="1"/>
<rect x="129" y="629" width="5" height="1"/>
<rect x="135" y="629" width="5" height="1"/>
<rect x="141" y="629" width="5" height="1"/>
<rect x="147" y="629" width="5" height="1"/>
<rect x="153" y="629" width="5" height="1"/>
<rect x="159" y="629" width="5" height="1"/>
<rect x="165" y="629" width="5" height="1"/>
<rect x="171" y="629" width="5" height="1"/>
<rect x="177" y="629" width="5" height="1"/>
<rect x="183" y="629" width="5" height="1"/>
<rect x="189" y="629" width="5" height="1"/>
<rect x="195" y="629" width="5" height="1"/>
<rect x="201" y="629" width="5" height="1"/>
<rect x="207" y="629" width="5" height="1"/>
<rect x="213" y="629" width="5" height="1"/>
<rect x="219" y="629" width="5" height="1"/>
<rect x="225" y="629" width="5" height="1"/>
<rect x="231" y="629" width="5" height="1"/>
<rect x="237" y="629" width="5" height="1"/>
<rect x="243" y="629" width="5" height="1"/>
<rect x="249" y="629" width="5" height="1"/>
<rect x="255" y="629" width="5" height="1"/>
<rect x="261" y="629" width="5" height="1"/>
<rect x="267" y="629" width="5" height="1"/>
<rect x="273" y="629" width="5" height="1"/>
<rect x="279" y="629" width="5" height="1"/>
<rect x="285" y="629" width="5" height="1"/>
<rect x="291" y="629" width="5" height="1"/>
<rect x="297" y="629" width="5" height="1"/>
<rect x="303" y="629" width="5" height="1"/>
<rect x="309" y="629" width="5" height="1"/>
<rect x="315" y="629" width="5" height="1"/>
<rect x="321" y="629" width="5" height="1"/>
<rect x="327" y="629" width="5" height="1"/>
<rect x="333" y="629" width="5" height="1"/>
<rect x="339" y="629" width="5" height="1"/>
<rect x="345" y="629" width="5" height="1"/>
<rect x="351" y="629" width="5" height="1"/>
<rect x="357" y="629" width="5" height="1"/>
<rect x="363" y="629" width="5" height="1"/>
<rect x="369" y="629" width="5" height="1"/>
<rect x="375" y="629" width="5" height="1"/>
<rect x="381" y="629" width="5" height="1"/>
<rect x="387" y="629" width="5" height="1"/>
<rect x="393" y="629" width="5" height="1"/>
<rect x="399" y="629" width="5" height="1"/>
<rect x="405" y="629" width="5" height="1"/>
<rect x="411" y="629" width="5" height="1"/>
<rect x="417" y="629" width="5" height="1"/>
<rect x="423" y="629" width="5" height="1"/>
<rect x="429" y="629" width="5" height="1"/>
<rect x="435" y="629" width="5" height="1"/>
<rect x="441" y="629" width="5" height="1"/>
<rect x="447" y="629" width="5" height="1"/>
<rect x="453" y="629" width="5" height="1"/>
<rect x="459" y="629" width="5" height="1"/>
<rect x="465" y="629" width="5" height="1"/>
<rect x="471" y="629" width="5" height="1"/>
<rect x="477" y="629" width="5" height="1"/>
<rect x="483" y="629" width="5" height="1"/>
<rect x="489" y="629" width="5" height="1"/>
<rect x="495" y="629" width="5" height="1"/>
<rect x="501" y="629" width="5" height="1"/>
<rect x="507" y="629" width="5" height="1"/>
<rect x="513" y="629" width="5" height="1"/>
<rect x="519" y="629" width="5" height="1"/>
<rect x="525" y="629" width="5" height="1"/>
<rect x="531" y="629" width="5" height="1"/>
<rect x="537" y="629" width="5" height="1"/>
<rect x="543" y="629" width="5" height="1"/>
<rect x="549" y="629" width="5" height="1"/>
<rect x="555" y="629" width="5" height="1"/>
<rect x="561" y="629" width="5" height="1"/>
<rect x="567" y="629" width="5" height="1"/>
<rect x="573" y="629" width="5" height="1"/>
<rect x="579" y="629" width="5" height="1"/>
<rect x="585" y="629" width="5" height="1"/>
<rect x="591" y="629" width="5" height="1"/>
<rect x="597" y="629" width="5" height="1"/>
<rect x="603" y="629" width="5" height="1"/>
<rect x="609" y="629" width="5" height="1"/>
<rect x="615" y="629" width="5" height="1"/>
<rect x="621" y="629" width="5" height="1"/>
<rect x="627" y="629" width="5" height="1"/>
<rect x="633" y="629" width="5" height="1"/>
<rect x="639" y="629" width="5" height="1"/>
<rect x="645" y="629" width="5" height="1"/>
<rect x="651" y="629" width="5" height="1"/>
<rect x="657" y="629" width="5" height="1"/>
<rect x="663" y="629" width="5" height="1"/>
<rect x="669" y="629" width="5" height="1"/>
<rect x="675" y="629" width="5" height="1"/>
<rect x="681" y="629" width="5" height="1"/>
<rect x="687" y="629" width="5" height="1"/>
<rect x="693" y="629" width="5" height="1"/>
<rect x="699" y="629" width="5" height="1"/>
<rect x="705" y="629" width="5" height="1"/>
<rect x="711" y="629" width="5" height="1"/>
<rect x="717" y="629" width="5" height="1"/>
<rect x="723" y="629" width="5" height="1"/>
<rect x="729" y="629" width="5" height="1"/>
<rect x="735" y="629" width="5" height="1"/>
<rect x="741" y="629" width="5" height="1"/>
<rect x="747" y="629" width="5" height="1"/>
<rect x="753" y="629" width="5" height="1"/>
<rect x="23" y="627" width="1" height="5"/>
<rect x="29" y="627" width="1" height="5"/>
<rect x="35" y="627" width="1" height="5"/>
<rect x="41" y="627" width="1" height="5"/>
<rect x="47" y="627" width="1" height="5"/>
<rect x="53" y="627" width="1" height="5"/>
<rect x="59" y="627" width="1" height="5"/>
<rect x="65" y="627" width="1" height="5"/>
<rect x="71" y="627" width="1" height="5"/>
<rect x="77" y="627" width="1" height="5"/>
<rect x="83" y="627" width="1" height="5"/>
<rect x="89" y="627" width="1" height="5"/>
<rect x="95" y="627" width="1" height="5"/>
<rect x="101" y="627" width="1" height="5"/>
<rect x="107" y="627" width="1" height="5"/>
<rect x="113" y="627" width="1" height="5"/>
<rect x="119" y="627" width="1" height="5"/>
<rect x="197" y="627" width="1" height="5"/>
<rect x="203" y="627" width="1" height="5"/>
<rect x="209" y="627" width="1" height="5"/>
<rect x="215" y="627" width="1" height="5"/>
<rect x="221" y="627" width="1" height="5"/>
<rect x="227" y="627" width="1" height="5"/>
<rect x="239" y="627" width="1" height="5"/>
<rect x="245" y="627" width="1" height="5"/>
<rect x="251" y="627" width="1" height="5"/>
<rect x="299" y="627" width="1" height="5"/>
<rect x="305" y="627" width="1" height="5"/>
<rect x="311" y="627" width="1" height="5"/>
<rect x="317" y="627" width="1" height="5"/>
<rect x="323" y="627" width="1" height="5"/>
<rect x="329" y="627" width="1" height="5"/>
<rect x="335" y="627" width="1" height="5"/>
<rect x="341" y="627" width="1" height="5"/>
<rect x="347" y="627" width="1" height="5"/>
<rect x="353" y="627" width="1" height="5"/>
<rect x="359" y="627" width="1" height="5"/>
<rect x="449" y="627" width="1" height="5"/>
<rect x="461" y="627" width="1" height="5"/>
<rect x="467" y="627" width="1" height="5"/>
<rect x="473" y="627" width="1" height="5"/>
<rect x="485" y="627" width="1" height="5"/>
<rect x="497" y="627" width="1" height="5"/>
<rect x="503" y="627" width="1" height="5"/>
<rect x="509" y="627" width="1" height="5"/>
<rect x="515" y="627" width="1" height="5"/>
<rect x="521" y="627" width="1" height="5"/>
<rect x="533" y="627" width="1" height="5"/>
<rect x="611" y="627" width="1" height="5"/>
<rect x="617" y="627" width="1" height="5"/>
<rect x="623" y="627" width="1" height="5"/>
<rect x="629" y="627" width="1" height="5"/>
<rect x="635" y="627" width="1" height="5"/>
<rect x="641" y="627" width="1" height="5"/>
<rect x="647" y="627" width="1" height="5"/>
<rect x="653" y="627" width="1" height="5"/>
<rect x="659" y="627" width="1" height="5"/>
<rect x="665" y="627" width="1" height="5"/>
</g>
<polyline fill="none" stroke="#dc963a" stroke-width="1.15" stroke-linejoin="round" points="17.5,607.4 23.5,638.7 29.5,639.6 35.5,600.4 41.5,586.5 47.5,600.4 53.5,629.1 59.5,630.5 65.5,625.7 71.5,616.1 77.5,589.1 83.5,595.2 89.5,602.2 95.5,602.2 101.5,614.3 107.5,623.9 113.5,668.3 119.5,658.7 125.5,663.5 131.5,670.9 137.5,658.7 143.5,651.7 149.5,647.4 155.5,628.3 161.5,596.1 167.5,672.6 173.5,666.5 179.5,657.8 185.5,657.8 191.5,643 197.5,625.7 203.5,577 209.5,595.2 215.5,607.4 221.5,639.6 227.5,648.3 233.5,654.3 239.5,646.5 245.5,644.8 251.5,640.7 257.5,646.2 263.5,683.7 269.5,673 275.5,661 281.5,650 287.5,670.6 293.5,657 299.5,625.6 305.5,592.6 311.5,594.3 317.5,609.1 323.5,625.7 329.5,625.7 335.5,655.2 341.5,660.4 347.5,647.4 353.5,613.9 359.5,661.3 365.5,650 371.5,668.3 377.5,661.3 383.5,651.7 389.5,679.6 395.5,667.4 401.5,663.9 407.5,658.7 413.5,651.7 419.5,658.7 425.5,630 431.5,598.7 437.5,643 443.5,659.6 449.5,646.5 455.5,626.5 461.5,616.5 467.5,615.6 473.5,634.3 479.5,657.8 485.5,644.8 491.5,621.3 497.5,623.9 503.5,633.5 509.5,655.2 515.5,630.9 521.5,625.7 527.5,666.5 533.5,653.5 539.5,643 545.5,658.7 551.5,675.2 557.5,660.4 563.5,660.4 569.5,660.4 575.5,650 581.5,644.8 587.5,655.2 593.5,669.1 599.5,655.2 605.5,655.2 611.5,627.4 617.5,616.1 623.5,583 629.5,590.9 635.5,602.2 641.5,609.1 647.5,591.7 653.5,606.5 659.5,629.1 665.5,653.5 671.5,667.4 677.5,657 683.5,646.5 689.5,635.2 695.5,645.7 701.5,646.5 707.5,681.3 713.5,669.1 719.5,657 725.5,663.9 731.5,651.7 737.5,632.6 743.5,646.5 749.5,662.2 755.5,659.6"/>
<polyline fill="none" stroke="#000" stroke-width="2.6" stroke-linejoin="round" points="17.5,608.4 23.5,634.8 29.5,626.5 35.5,598.5 41.5,580.4 47.5,586.5 53.5,614.3 59.5,610.9 65.5,606.5 71.5,602.2 77.5,582.5 83.5,583 89.5,585.7 95.5,588.3 101.5,602.2 107.5,607.4 113.5,620.4 119.5,623 125.5,634.8 131.5,655.6 137.5,660.4 143.5,657 149.5,660.4 155.5,650 161.5,645.1 167.5,657 173.5,661.3 179.5,663.9 185.5,670.9 191.5,657 197.5,647.4 203.5,622.2 209.5,612.6 215.5,610.9 221.5,640.4 227.5,644.8 233.5,647.4 239.5,644.9 245.5,643.9 251.5,641.2 257.5,641.6 263.5,657.3 269.5,673.4 275.5,670.3 281.5,664.9 287.5,673.4 293.5,660.5 299.5,635.5 305.5,618.7 311.5,598.7 317.5,609.1 323.5,621.3 329.5,612.6 335.5,623.9 341.5,630.9 347.5,625.7 353.5,615.6 359.5,641.3 365.5,640.4 371.5,664.8 377.5,670 383.5,660.4 389.5,678.7 395.5,679.6 401.5,682.2 407.5,675.2 413.5,667.4 419.5,664.8 425.5,650.9 431.5,641.3 437.5,650.9 443.5,657.8 449.5,653.5 455.5,640.5 461.5,634.3 467.5,637 473.5,658.7 479.5,667.4 485.5,650 491.5,627.4 497.5,636.1 503.5,646.5 509.5,658.7 515.5,637 521.5,630.9 527.5,672.6 533.5,664.8 539.5,655.2 545.5,672.6 551.5,698.7 557.5,685.7 563.5,683.9 569.5,674.8 575.5,664.8 581.5,657 587.5,658.7 593.5,662.2 599.5,655.2 605.5,659.6 611.5,649.1 617.5,645.7 623.5,630 629.5,611.7 635.5,607.4 641.5,607.4 647.5,586.5 653.5,597.8 659.5,611.7 665.5,625.2 671.5,638.7 677.5,649.1 683.5,644.8 689.5,643.9 695.5,652.6 701.5,655.2 707.5,664.8 713.5,671.7 719.5,669.1 725.5,677 731.5,664.8 737.5,651.7 743.5,655.2 749.5,661.3 755.5,658.7"/>
<line x1="426.7" y1="641.3" x2="510" y2="623.6" stroke="#000" stroke-width="2"/>
</svg></body></html>
